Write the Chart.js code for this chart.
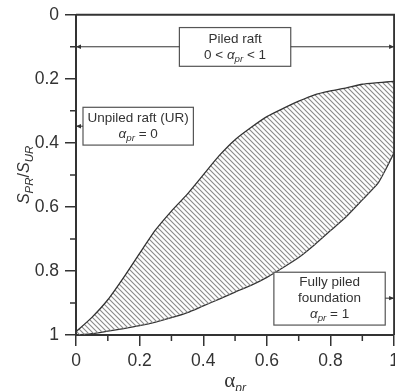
<!DOCTYPE html>
<html>
<head>
<meta charset="utf-8">
<script src="https://cdn.jsdelivr.net/npm/chart.js@4.4.1/dist/chart.umd.min.js"></script>
<style>
  html, body { margin: 0; padding: 0; background: #fff; overflow: hidden; }
  canvas { display: block; }
</style>
</head>
<body>
<canvas id="chart" width="405" height="391"></canvas>
<script>
// load sharing ratio and the settlement envelope it produces
const alphaPr = [0, 0.05, 0.1, 0.15, 0.2, 0.25, 0.3, 0.35, 0.4, 0.45, 0.5,
  0.55, 0.6, 0.65, 0.7, 0.75, 0.8, 0.85, 0.9, 0.95, 0.975, 1];
const upperBound = [0.99, 0.945, 0.89, 0.82, 0.745, 0.672, 0.613, 0.56, 0.5, 0.44, 0.39,
  0.352, 0.318, 0.293, 0.27, 0.25, 0.238, 0.228, 0.217, 0.212, 0.21, 0.208];
const lowerBound = [1.0, 0.996, 0.988, 0.98, 0.971, 0.96, 0.946, 0.93, 0.909, 0.888, 0.866,
  0.845, 0.82, 0.79, 0.758, 0.718, 0.674, 0.63, 0.578, 0.525, 0.48, 0.43];

const majorTicks = [0, 0.2, 0.4, 0.6, 0.8, 1];
const minorTicks = [0.1, 0.3, 0.5, 0.7, 0.9];
const tickLabels = ['0', '0.2', '0.4', '0.6', '0.8', '1'];

const ink = '#333';
const sans = "'Liberation Sans', Arial, sans-serif";

// diagonal hatch for the envelope
function hatch() {
  const s = 5;
  const c = document.createElement('canvas');
  c.width = s; c.height = s;
  const g = c.getContext('2d');
  g.strokeStyle = '#8a8a8a';
  g.lineWidth = 1.1;
  g.beginPath();
  g.moveTo(-1, -1); g.lineTo(s + 1, s + 1);
  g.moveTo(s - 1, -1); g.lineTo(s + 1, 1);
  g.moveTo(-1, s - 1); g.lineTo(1, s + 1);
  g.stroke();
  return g.createPattern(c, 'repeat');
}

// text with italic / subscript runs: [text, style]
function runFont(style, size) {
  if (style === 'sub') return 'italic ' + (size * 0.72) + 'px ' + sans;
  if (style === 'i') return 'italic ' + size + 'px ' + sans;
  return size + 'px ' + sans;
}
function richWidth(ctx, parts, size) {
  let w = 0;
  for (const [t, st] of parts) { ctx.font = runFont(st, size); w += ctx.measureText(t).width; }
  return w;
}
function drawRich(ctx, parts, cx, y, size) {
  let x = cx - richWidth(ctx, parts, size) / 2;
  ctx.textAlign = 'left';
  ctx.textBaseline = 'middle';
  for (const [t, st] of parts) {
    ctx.font = runFont(st, size);
    ctx.fillText(t, x, st === 'sub' ? y + size * 0.3 : y);
    x += ctx.measureText(t).width;
  }
}

const notes = [
  { x0: 0.325, x1: 0.675, y0: 0.04, y1: 0.161,
    lines: [[['Piled raft', '']], [['0 < ', ''], ['α', 'i'], ['pr', 'sub'], [' < 1', '']]],
    arrows: [{ from: 0.325, to: 0, y: 0.1 }, { from: 0.675, to: 1, y: 0.1 }] },
  { x0: 0.022, x1: 0.369, y0: 0.289, y1: 0.407,
    lines: [[['Unpiled raft (UR)', '']], [['α', 'i'], ['pr', 'sub'], [' = 0', '']]],
    arrows: [{ from: 0.022, to: 0, y: 0.348 }] },
  { x0: 0.622, x1: 0.972, y0: 0.804, y1: 0.969,
    lines: [[['Fully piled', '']], [['foundation', '']], [['α', 'i'], ['pr', 'sub'], [' = 1', '']]],
    arrows: [{ from: 0.972, to: 1, y: 0.885 }] }
];

function arrow(ctx, xa, xb, y) {
  ctx.beginPath(); ctx.moveTo(xa, y); ctx.lineTo(xb, y); ctx.stroke();
  const d = xb > xa ? 1 : -1;
  ctx.beginPath();
  ctx.moveTo(xb, y);
  ctx.lineTo(xb - d * 5, y - 2.2);
  ctx.lineTo(xb - d * 5, y + 2.2);
  ctx.closePath();
  ctx.fill();
}

const decorations = {
  id: 'decorations',
  afterDraw(chart) {
    const { ctx, chartArea: a, scales: { x, y } } = chart;
    ctx.save();
    ctx.strokeStyle = ink;
    ctx.fillStyle = ink;

    // top and right frame
    ctx.lineWidth = 2;
    ctx.beginPath();
    ctx.moveTo(a.left, a.top); ctx.lineTo(a.right, a.top); ctx.lineTo(a.right, a.bottom);
    ctx.stroke();

    // minor ticks
    ctx.lineWidth = 1.5;
    ctx.beginPath();
    for (const v of minorTicks) {
      const px = x.getPixelForValue(v);
      ctx.moveTo(px, a.bottom); ctx.lineTo(px, a.bottom + 6);
      const py = y.getPixelForValue(v);
      ctx.moveTo(a.left, py); ctx.lineTo(a.left - 6, py);
    }
    ctx.stroke();

    // labelled boxes with arrows
    for (const n of notes) {
      const l = x.getPixelForValue(n.x0), r = x.getPixelForValue(n.x1);
      const t = y.getPixelForValue(n.y0), b = y.getPixelForValue(n.y1);
      ctx.fillStyle = '#fff';
      ctx.fillRect(l, t, r - l, b - t);
      ctx.strokeStyle = '#555';
      ctx.lineWidth = 1.2;
      ctx.strokeRect(l, t, r - l, b - t);
      ctx.fillStyle = ink;
      ctx.strokeStyle = ink;
      ctx.lineWidth = 1;
      for (const ar of n.arrows) {
        arrow(ctx, x.getPixelForValue(ar.from), x.getPixelForValue(ar.to), y.getPixelForValue(ar.y));
      }
      const step = 16;
      const cy = (t + b) / 2 - (n.lines.length - 1) * step / 2;
      n.lines.forEach((ln, i) => drawRich(ctx, ln, (l + r) / 2, cy + i * step, 13.5));
    }

    // axis titles
    ctx.fillStyle = ink;
    ctx.save();
    ctx.translate(29, (a.top + a.bottom) / 2);
    ctx.rotate(-Math.PI / 2);
    ctx.textBaseline = 'alphabetic';
    const yt = [['S', 'i'], ['PR', 'sub'], ['/', ''], ['S', 'i'], ['UR', 'sub']];
    let sx = -richWidth(ctx, yt, 16) / 2;
    for (const [txt, st] of yt) {
      ctx.font = runFont(st, 16);
      ctx.textAlign = 'left';
      ctx.fillText(txt, sx, st === 'sub' ? 3.5 : 0);
      sx += ctx.measureText(txt).width;
    }
    ctx.restore();

    const cx = (a.left + a.right) / 2;
    ctx.textAlign = 'left';
    ctx.textBaseline = 'alphabetic';
    ctx.font = "21px 'Liberation Serif', serif";
    const aw = ctx.measureText('α').width;
    ctx.font = 'italic 12px ' + sans;
    const pw = ctx.measureText('pr').width;
    const x0 = cx - (aw + pw) / 2;
    ctx.font = "21px 'Liberation Serif', serif";
    ctx.fillText('α', x0, 387);
    ctx.font = 'italic 12px ' + sans;
    ctx.fillText('pr', x0 + aw, 392);
    ctx.restore();
  }
};

const tickFont = { family: sans, size: 17.5, lineHeight: 1 };

new Chart(document.getElementById('chart'), {
  type: 'line',
  data: {
    datasets: [
      {
        data: alphaPr.map((v, i) => ({ x: v, y: upperBound[i] })),
        borderColor: ink,
        borderWidth: 1.3,
        pointRadius: 0,
        tension: 0.2,
        fill: '+1',
        backgroundColor: hatch()
      },
      {
        data: alphaPr.map((v, i) => ({ x: v, y: lowerBound[i] })),
        borderColor: ink,
        borderWidth: 1.3,
        pointRadius: 0,
        tension: 0.2,
        fill: false
      }
    ]
  },
  options: {
    responsive: false,
    animation: false,
    layout: { padding: { top: 13, left: 0, right: 0, bottom: 0 } },
    plugins: { legend: { display: false }, tooltip: { enabled: false } },
    scales: {
      x: {
        type: 'linear',
        min: 0,
        max: 1,
        afterBuildTicks: s => { s.ticks = majorTicks.map(v => ({ value: v })); },
        afterFit: s => { s.height = 56; },
        ticks: {
          font: tickFont,
          color: ink,
          padding: 6,
          maxRotation: 0,
          callback: v => tickLabels[majorTicks.indexOf(v)]
        },
        grid: { drawOnChartArea: false, drawTicks: true, tickLength: 11, color: ink, lineWidth: 1.5 },
        border: { display: true, color: ink, width: 2 }
      },
      y: {
        type: 'linear',
        min: 0,
        max: 1,
        reverse: true,
        afterBuildTicks: s => { s.ticks = majorTicks.map(v => ({ value: v })); },
        afterFit: s => { s.width = 76; },
        ticks: {
          font: tickFont,
          color: ink,
          padding: 6,
          callback: v => tickLabels[majorTicks.indexOf(v)]
        },
        grid: { drawOnChartArea: false, drawTicks: true, tickLength: 11, color: ink, lineWidth: 1.5 },
        border: { display: true, color: ink, width: 2 }
      }
    }
  },
  plugins: [decorations]
});
</script>
</body>
</html>
